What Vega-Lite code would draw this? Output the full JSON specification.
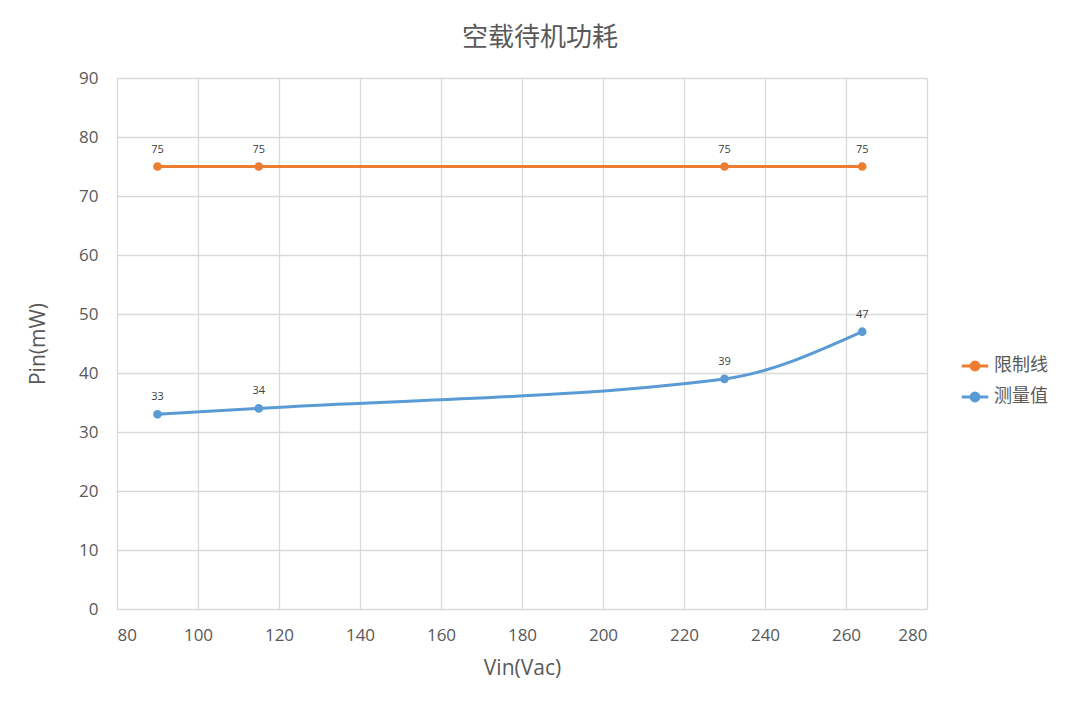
{
  "$schema": "https://vega.github.io/schema/vega-lite/v6.json",
  "autosize": "none",
  "width": 810,
  "height": 531,
  "padding": {"left": 117, "top": 78, "right": 153, "bottom": 101},
  "background": "white",
  "title": {
    "text": "空载待机功耗",
    "fontSize": 26,
    "fontWeight": "normal",
    "color": "#595959",
    "font": "Noto Sans CJK SC",
    "anchor": "middle",
    "dx": 18,
    "offset": 18
  },
  "data": {
    "values": [
      {"Vin": 90, "Pin": 75, "series": "限制线"},
      {"Vin": 115, "Pin": 75, "series": "限制线"},
      {"Vin": 230, "Pin": 75, "series": "限制线"},
      {"Vin": 264, "Pin": 75, "series": "限制线"},
      {"Vin": 90, "Pin": 33, "series": "测量值"},
      {"Vin": 115, "Pin": 34, "series": "测量值"},
      {"Vin": 230, "Pin": 39, "series": "测量值"},
      {"Vin": 264, "Pin": 47, "series": "测量值"}
    ]
  },
  "encoding": {
    "x": {
      "field": "Vin",
      "type": "quantitative",
      "scale": {"domain": [80, 280], "nice": false},
      "axis": {
        "title": "Vin(Vac)",
        "values": [80, 100, 120, 140, 160, 180, 200, 220, 240, 260, 280],
        "titleFont": "Open Sans",
        "titleFontSize": 21,
        "titleFontWeight": "normal",
        "titleColor": "#595959",
        "titlePadding": 14,
        "labelFont": "Open Sans",
        "labelFontSize": 17,
        "labelColor": "#595959",
        "labelPadding": 18
      }
    },
    "y": {
      "field": "Pin",
      "type": "quantitative",
      "scale": {"domain": [0, 90], "nice": false},
      "axis": {
        "title": "Pin(mW)",
        "values": [0, 10, 20, 30, 40, 50, 60, 70, 80, 90],
        "titleFont": "Open Sans",
        "titleFontSize": 21,
        "titleFontWeight": "normal",
        "titleColor": "#595959",
        "titlePadding": 30,
        "labelFont": "Open Sans",
        "labelFontSize": 17,
        "labelColor": "#595959",
        "labelPadding": 19
      }
    },
    "color": {
      "field": "series",
      "type": "nominal",
      "scale": {"domain": ["限制线", "测量值"], "range": ["#ED7D31", "#5B9BD5"]},
      "legend": {
        "title": null,
        "orient": "none",
        "legendX": 843,
        "legendY": 273,
        "labelFontSize": 18,
        "labelColor": "#595959",
        "symbolType": "M-1,0L1,0M-0.3,0A0.3,0.3 0 1,1 0.3,0A0.3,0.3 0 1,1 -0.3,0",
        "symbolSize": 700,
        "symbolStrokeWidth": 3,
        "symbolFillColor": null,
        "rowPadding": 6,
        "labelOffset": 4
      }
    }
  },
  "layer": [
    {
      "mark": {"type": "line", "interpolate": "monotone", "strokeWidth": 3}
    },
    {
      "mark": {"type": "point", "filled": true, "size": 75, "opacity": 1}
    },
    {
      "mark": {"type": "text", "dy": -17, "fontSize": 11, "font": "Open Sans", "color": "#404040"},
      "encoding": {
        "text": {"field": "Pin", "type": "quantitative"},
        "color": {"value": "#404040"}
      }
    }
  ],
  "config": {
    "font": "Noto Sans CJK SC",
    "view": {"stroke": null},
    "axis": {
      "grid": true,
      "gridColor": "#d9d9d9",
      "gridWidth": 1.3,
      "domain": false,
      "ticks": false
    }
  }
}
